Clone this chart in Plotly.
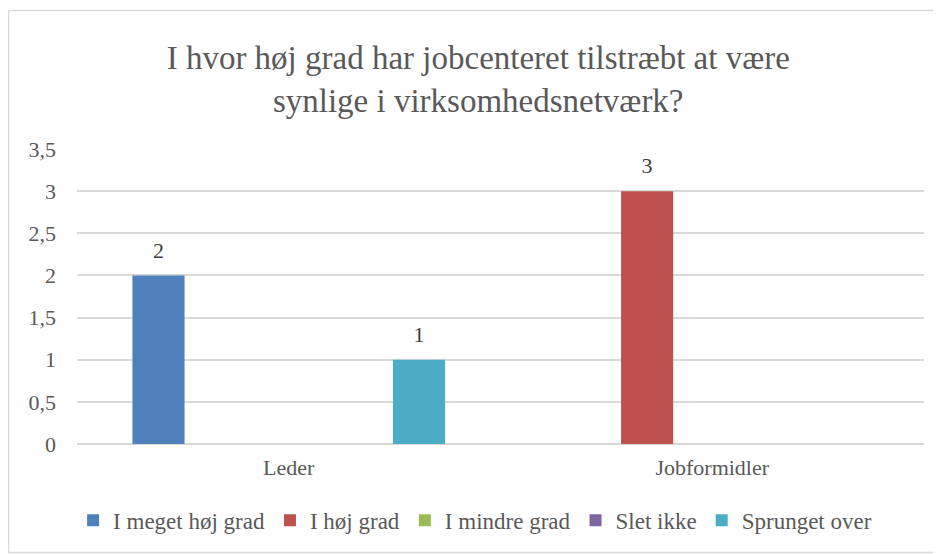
import plotly.graph_objects as go

categories = ["Leder", "Jobformidler"]
series_names = ["I meget høj grad", "I høj grad", "I mindre grad", "Slet ikke", "Sprunget over"]
values_meget_hoej = [2, None]
values_hoej = [None, 3]
values_mindre = [None, None]
values_slet_ikke = [None, None]
values_sprunget = [1, None]
colors = ["#4F81BD", "#C0504D", "#9BBB59", "#8064A2", "#4BACC6"]
tick_vals = [0, 0.5, 1, 1.5, 2, 2.5, 3, 3.5]
tick_text = ["0", "0,5", "1", "1,5", "2", "2,5", "3", "3,5"]

all_values = [values_meget_hoej, values_hoej, values_mindre, values_slet_ikke, values_sprunget]

FONT = "'Times New Roman', 'Liberation Serif', Tinos, 'DejaVu Serif', serif"
BARGAP = 0.231

fig = go.Figure()
for name, vals, col in zip(series_names, all_values, colors):
    fig.add_trace(go.Bar(
        name=name, x=categories, y=vals, marker=dict(color=col, line=dict(width=0)),
    ))
# value labels, grouped the same way as the bars
for name, vals in zip(series_names, all_values):
    fig.add_trace(go.Scatter(
        name=name, x=categories, y=vals, mode="markers+text",
        marker=dict(size=18, opacity=0), showlegend=False, hoverinfo="skip",
        text=[("" if v is None else str(v)) for v in vals],
        textposition="top center", textfont=dict(family=FONT, size=22, color="#404040"),
        cliponaxis=False,
    ))

# page body has an 8px margin, so the figure is sized/shifted to fit the window
W, H = 933, 546
ml, mr, mt, mb = 69, 17, 141, 110
pw, ph = W - ml - mr, H - mt - mb

def px_x(px):
    return (px - ml) / pw

def px_y(py):
    return (H - mb - py) / ph

fig.update_layout(
    width=W, height=H,
    margin=dict(l=ml, r=mr, t=mt, b=mb),
    paper_bgcolor="white", plot_bgcolor="white",
    font=dict(family=FONT, size=22, color="#595959"),
    title=dict(text="I hvor høj grad har jobcenteret tilstræbt at være<br>synlige i virksomhedsnetværk?",
               x=0.504, xanchor="center", y=0.889, yanchor="middle",
               font=dict(family=FONT, size=33, color="#595959")),
    barmode="group", bargap=BARGAP, bargroupgap=0.2,
    scattermode="group", scattergap=BARGAP,
    showlegend=True,
    legend=dict(orientation="h", x=0.47, xanchor="center", y=-0.186, yanchor="top",
                font=dict(family=FONT, size=23, color="#595959"), traceorder="normal",
                itemwidth=30),
    xaxis=dict(showgrid=False, showline=False, ticks="", ticklabelstandoff=8,
               tickfont=dict(family=FONT, size=22, color="#595959")),
    yaxis=dict(range=[0, 3.5], tickvals=tick_vals, ticktext=tick_text, showgrid=True,
               gridcolor="#D9D9D9", gridwidth=1.5, zeroline=True, zerolinecolor="#D9D9D9",
               zerolinewidth=1.5, showline=False, ticks="", ticklabelstandoff=20,
               tickfont=dict(family=FONT, size=22, color="#595959")),
    shapes=[dict(type="rect", xref="paper", yref="paper",
                 x0=px_x(0.5), x1=px_x(931.5), y0=px_y(544.5), y1=px_y(2.5),
                 line=dict(color="#D9D9D9", width=1.5), fillcolor="rgba(0,0,0,0)", layer="below")],
)

fig.write_html("out.html")
